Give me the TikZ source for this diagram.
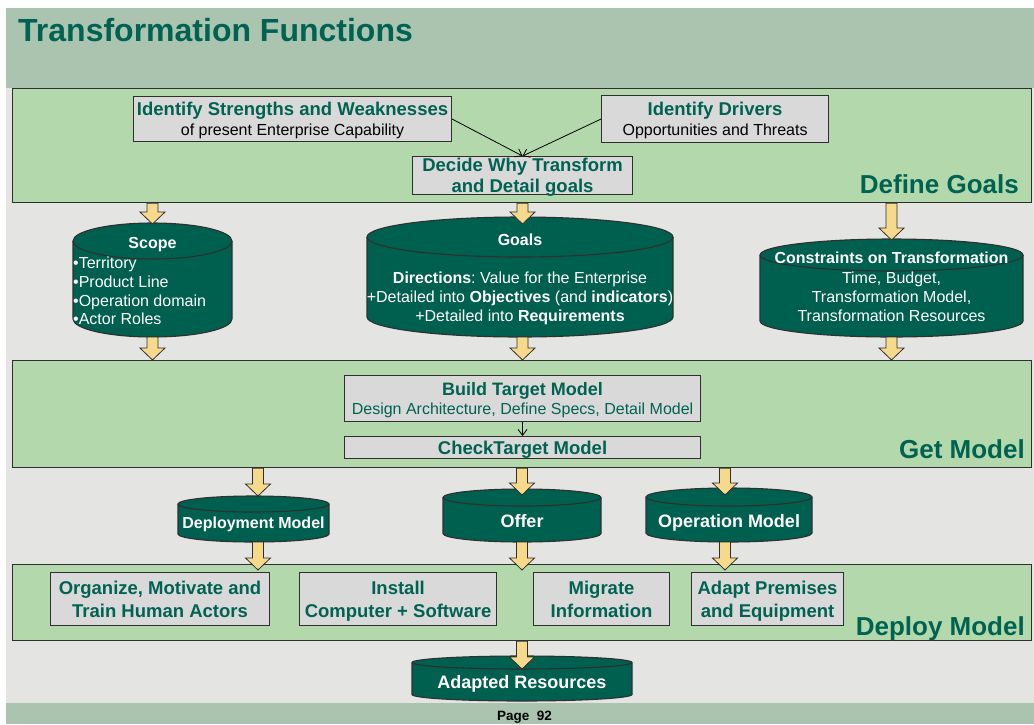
\documentclass[tikz,border=0pt]{standalone}
\usepackage{fontspec}
\setmainfont{Liberation Sans}
\usetikzlibrary{calc,arrows.meta}
\frenchspacing

\definecolor{hdrband}{HTML}{ABC4B0}
\definecolor{canvasgray}{HTML}{E4E4E2}
\definecolor{secfill}{HTML}{B3D8AB}
\definecolor{boxgray}{HTML}{D9D9D9}
\definecolor{dkgreen}{HTML}{006352}
\definecolor{cylgreen}{HTML}{00604F}
\definecolor{arrowyellow}{HTML}{F6D98A}
\definecolor{edge}{HTML}{2F2F2F}

% one text line of a card: fixed height, no depth, so every card centres alike
\newcommand\cardline[1]{\rule{0pt}{13.5pt}\smash{#1}}

% drum-shaped store: name, left x, right x, top y, bottom y, ellipse half-height
\newcommand\drum[6]{%
  \pgfmathsetmacro\drx{(#3-#2)/2}%
  \pgfmathsetmacro\dct{#4+#6}%
  \pgfmathsetmacro\dcb{#5-#6}%
  \path[drumbody] (#2,\dct) -- (#2,\dcb)
     arc[start angle=180,end angle=0,x radius=\drx,y radius=#6]
     -- (#3,\dct)
     arc[start angle=0,end angle=-180,x radius=\drx,y radius=#6] -- cycle;
  \draw[drumedge] (#2,\dct) arc[start angle=180,end angle=0,x radius=\drx,y radius=#6];
  \node[inner sep=0pt,outer sep=0pt,anchor=north west,
        minimum width={(#3-#2)*1pt},minimum height={(#5-#4)*1pt}] (#1) at (#2,#4) {};%
}

% yellow block arrow from the first coordinate straight down to the second
\newcommand\feed[2]{%
  \draw[feedarrow] let \p1=(#1), \p2=(#2) in
    (\x1-5.5pt,\y1) -- (\x1-5.5pt,\y2+12pt) -- (\x1-12.5pt,\y2+12pt) -- (\x1,\y2)
    -- (\x1+12.5pt,\y2+12pt) -- (\x1+5.5pt,\y2+12pt) -- (\x1+5.5pt,\y1) -- cycle;%
}

\begin{document}
\begin{tikzpicture}[x=1pt,y=-1pt,
  secbox/.style={draw=edge,line width=1.3pt,fill=secfill,inner sep=0pt,anchor=north west},
  stepcard/.style={draw=edge,line width=1.1pt,fill=boxgray,inner sep=0pt,anchor=north west,
     align=center,text=dkgreen,font=\fontsize{18.5}{20}\selectfont\bfseries},
  sectitle/.style={anchor=base east,text=dkgreen,inner sep=0pt,
     font=\fontsize{26}{30}\selectfont\bfseries},
  cyltext/.style={text=white,inner sep=0pt,anchor=base,font=\fontsize{16}{19}\selectfont},
  cylhead/.style={cyltext,font=\fontsize{16}{19}\selectfont\bfseries},
  cylbig/.style={cyltext,font=\fontsize{18}{20}\selectfont\bfseries},
  drumbody/.style={fill=cylgreen,draw=edge,line width=1.1pt},
  drumedge/.style={draw=edge,line width=1.1pt},
  feedarrow/.style={draw=edge,line width=0.8pt,fill=arrowyellow,line join=miter},
  linkarrow/.style={draw=black,line width=0.8pt,-{Straight Barb[length=6pt,width=9pt]}}]

\useasboundingbox (0,0) rectangle (1034,724);
\fill[white] (0,0) rectangle (1034,724);
\fill[hdrband] (6,8) rectangle (1034,88);
\fill[canvasgray] (6,88) rectangle (1034,703);
\fill[hdrband] (6,703) rectangle (1034,724);

\node[anchor=base west,inner sep=0pt,text=dkgreen,font=\fontsize{32}{36}\selectfont\bfseries]
  (title) at (18,41) {Transformation Functions};

% ---------- Define Goals ----------
\node[secbox,minimum width=1019pt,minimum height=114pt] (goalsbox) at (12,88) {};
\node[sectitle] (goalslbl) at (1019,193) {Define Goals};

\node[stepcard,minimum width=318pt,minimum height=45pt] (strengths) at (133,96)
  {\cardline{Identify Strengths and Weaknesses}\\
   \cardline{\fontsize{16}{20}\selectfont\mdseries\color{black}of present Enterprise Capability}};
\node[stepcard,minimum width=227pt,minimum height=47pt] (drivers) at (601,95)
  {\cardline{Identify Drivers}\\
   \cardline{\fontsize{16}{20}\selectfont\mdseries\color{black}Opportunities and Threats}};
\node[stepcard,minimum width=220pt,minimum height=38pt,font=\fontsize{18.5}{21}\selectfont\bfseries]
  (decide) at (412,156) {\cardline{Decide Why Transform}\\\cardline{and Detail goals}};

\draw[linkarrow] (strengths.east) -- (decide.north);
\draw[linkarrow] (drivers.west) -- (decide.north);

% ---------- goal stores ----------
\drum{scope}{73}{232}{223}{337}{18}
\node[cylhead] (scopeT) at (152.5,248) {Scope};
\node[cyltext,anchor=base west] (scopeA) at (73,268) {•Territory};
\node[cyltext,anchor=base west] (scopeB) at (73,287) {•Product Line};
\node[cyltext,anchor=base west] (scopeC) at (73,306) {•Operation domain};
\node[cyltext,anchor=base west] (scopeD) at (73,324) {•Actor Roles};

\drum{goals}{367}{673}{217}{337}{20}
\node[cylhead] (goalsT) at (520,245) {Goals};
\node[cyltext] (goalsA) at (520,283) {\textbf{Directions}: Value for the Enterprise};
\node[cyltext] (goalsB) at (520,302) {+Detailed into \textbf{Objectives} (and \textbf{indicators})};
\node[cyltext] (goalsC) at (520,321) {+Detailed into \textbf{Requirements}};

\drum{cons}{760}{1023}{239}{337}{16}
\node[cylhead] (consT) at (891.5,263) {Constraints on Transformation};
\node[cyltext] (consA) at (891.5,283) {Time, Budget,};
\node[cyltext] (consB) at (891.5,302) {Transformation Model,};
\node[cyltext] (consC) at (891.5,321) {Transformation Resources};

% ---------- Get Model ----------
\node[secbox,minimum width=1019pt,minimum height=107pt] (getbox) at (12,360) {};
\node[sectitle] (getlbl) at (1025,458) {Get Model};

\node[stepcard,minimum width=356pt,minimum height=46pt,font=\fontsize{18}{19}\selectfont\bfseries]
  (build) at (344,375)
  {\cardline{Build Target Model}\\
   \cardline{\fontsize{16}{19}\selectfont\mdseries Design Architecture, Define Specs, Detail Model}};
\node[stepcard,minimum width=356pt,minimum height=22pt] (check) at (344,436)
  {\raisebox{-0.5pt}{\cardline{CheckTarget Model}}};
\draw[linkarrow] (build.south) -- (check.north);

% arrows into and out of the Get Model band
\feed{goalsbox.south -| scope}{[yshift=-1pt]scope.north}
\feed{goalsbox.south -| decide}{[yshift=-7pt]goals.north -| decide}
\feed{goalsbox.south -| cons}{[yshift=-1pt]cons.north}
\feed{scope.south}{getbox.north -| scope}
\feed{goals.south -| decide}{getbox.north -| decide}
\feed{cons.south}{getbox.north -| cons}

% ---------- model stores ----------
\drum{deploy}{178}{329}{496}{542}{8}
\node[cylhead] (deployT) at (253.5,528) {Deployment Model};
\drum{offer}{443}{601}{489}{542}{8.5}
\node[cylbig] (offerT) at (522,527) {Offer};
\drum{oper}{646}{812}{488}{542}{9}
\node[cylbig] (operT) at (729,527) {Operation Model};

% ---------- Deploy Model ----------
\node[secbox,minimum width=1019pt,minimum height=76pt] (deploybox) at (12,564) {};
\node[sectitle] (deploylbl) at (1025,635) {Deploy Model};

\tikzset{deploycard/.style={stepcard,minimum height=53pt,font=\fontsize{18.5}{22.5}\selectfont\bfseries}}
\node[deploycard,minimum width=219pt] (organize) at (50,572)
  {\cardline{Organize, Motivate and}\\\cardline{Train Human Actors}};
\node[deploycard,minimum width=197pt] (install) at (299,572)
  {\cardline{Install}\\\cardline{Computer + Software}};
\node[deploycard,minimum width=136pt] (migrate) at (533,572)
  {\cardline{Migrate}\\\cardline{Information}};
\node[deploycard,minimum width=152pt] (premises) at (691,572)
  {\cardline{Adapt Premises}\\\cardline{and Equipment}};

\feed{[xshift=4.5pt]getbox.south -| deploy}{[xshift=4.5pt]deploy.north}
\feed{getbox.south -| offer}{[yshift=-6pt]offer.north}
\feed{[xshift=-4pt]getbox.south -| oper}{[yshift=-7pt,xshift=-4pt]oper.north}
\feed{[xshift=4.5pt]deploy.south}{[yshift=-6pt,xshift=4.5pt]deploybox.north -| deploy}
\feed{offer.south}{[yshift=-6pt]deploybox.north -| offer}
\feed{[xshift=-4pt]oper.south}{[yshift=-6pt,xshift=-4pt]deploybox.north -| oper}

% ---------- result ----------
\drum{adapted}{412}{632}{656}{701}{6.5}
\node[cylbig] (adaptedT) at (522,688) {Adapted Resources};
\feed{deploybox.south -| adapted}{[yshift=-13pt]adapted.north}

\node[anchor=base,inner sep=0pt,font=\fontsize{13.5}{15}\selectfont\bfseries]
  (pageno) at (524.5,720) {Page~~92};
\end{tikzpicture}
\end{document}
